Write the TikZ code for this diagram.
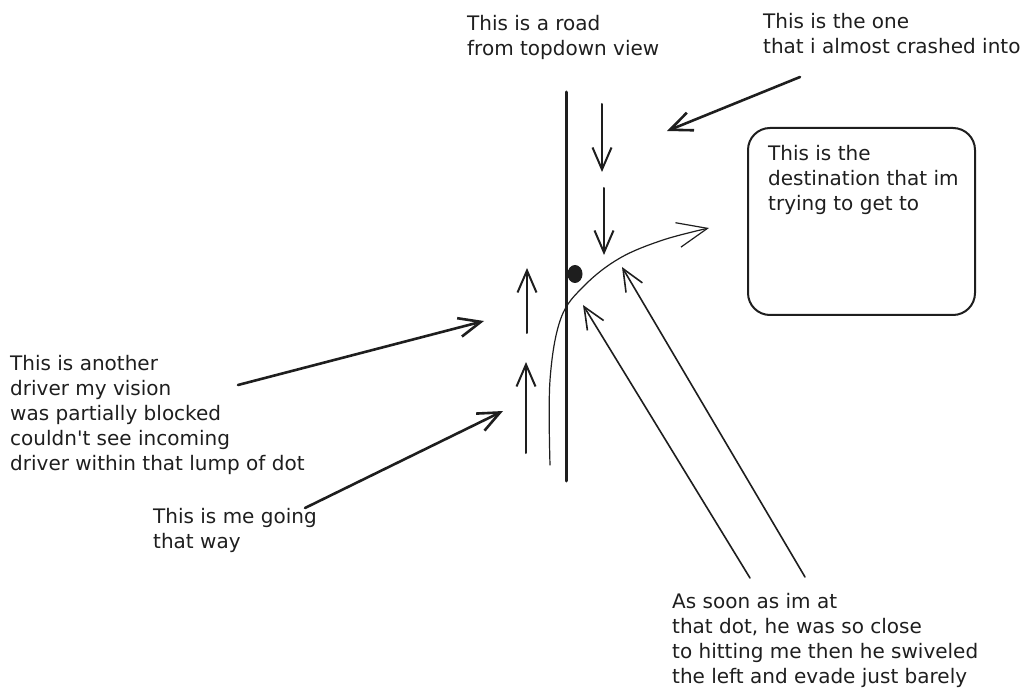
\documentclass[tikz,border=0pt]{standalone}
\usepackage{fontspec}
\setmainfont{DejaVu Sans}
\usetikzlibrary{arrows.meta}
\definecolor{ink}{HTML}{1E1E1E}
\tikzset{
  lbl/.style={anchor=north west, inner sep=0pt, align=left, text=ink,
              font=\fontsize{20}{25}\selectfont},
  barb/.style={-{Straight Barb[length=22pt,width=19pt]}},
  bigbarb/.style={-{Straight Barb[length=30pt,width=25pt]}},
  pen/.style={draw=ink, line cap=round, line join=round},
  lane/.style={pen, line width=2pt, barb},
  pointer/.style={pen, line width=2.6pt, barb},
  longarr/.style={pen, line width=1.6pt, barb},
}
\begin{document}
\begin{tikzpicture}[x=1pt, y=-1pt]
\useasboundingbox (0,0) rectangle (1030,700);

% texts
\node[lbl] (road) at (467,15) {This is a road\\from topdown view};
\node[lbl] (one) at (763,13) {This is the one\\that i almost crashed into};
\node[lbl] (dest) at (768,145) {This is the\\destination that im\\trying to get to};
\node[lbl] (other) at (10,355) {This is another\\driver my vision\\was partially blocked\\couldn\textquotesingle t see incoming\\driver within that lump of dot};
\node[lbl] (me) at (153,508) {This is me going\\that way};
\node[lbl] (soon) at (672,593) {As soon as im at\\that dot, he was so close\\to hitting me then he swiveled\\the left and evade just barely};

% destination box
\node[pen, line width=2pt, rounded corners=22pt, minimum width=227pt, minimum height=187pt, inner sep=0pt] (box) at (861.5,221.5) {};

% road
\coordinate (roadtop) at (566,92);
\coordinate (roadbot) at (566,481);
\draw[pen, line width=3pt] (roadtop) -- (roadbot);

% lane arrows going down
\coordinate (d1s) at (602,104); \coordinate (d1e) at (602,172);
\coordinate (d2s) at (604,188); \coordinate (d2e) at (604,255);
\draw[lane] (d1s) -- (d1e);
\draw[lane] (d2s) -- (d2e);

% lane arrows going up
\coordinate (u1s) at (527,333); \coordinate (u1e) at (527,268);
\coordinate (u2s) at (526,453); \coordinate (u2e) at (526,362);
\draw[lane] (u1s) -- (u1e);
\draw[lane] (u2s) -- (u2e);

% the dot
\coordinate (dot) at (575,274);
\fill[ink] (dot) ellipse [x radius=7.5pt, y radius=9pt];

% my path
\coordinate (p0) at (550,465);
\coordinate (p1) at (550,380);
\coordinate (p2) at (561,318);
\coordinate (p3) at (585,285);
\coordinate (p4) at (620,258);
\coordinate (p5) at (663,240);
\coordinate (p6) at (709,228);
\draw[pen, line width=1.2pt, bigbarb] plot[smooth, tension=0.6] coordinates {(p0) (p1) (p2) (p3) (p4) (p5) (p6)};

% pointers from labels
\coordinate (oneS) at (800,77); \coordinate (oneT) at (667,131);
\draw[pointer] (oneS) -- (oneT);
\coordinate (otherS) at (238,385); \coordinate (otherT) at (484,321);
\draw[pointer] (otherS) -- (otherT);
\coordinate (meS) at (305,508); \coordinate (meT) at (503,411);
\draw[pointer] (meS) -- (meT);

% long arrows of the other driver
\coordinate (l1s) at (750,578); \coordinate (l1e) at (583,305);
\coordinate (l2s) at (805,577); \coordinate (l2e) at (622,267);
\draw[longarr] (l1s) -- (l1e);
\draw[longarr] (l2s) -- (l2e);
\end{tikzpicture}
\end{document}
